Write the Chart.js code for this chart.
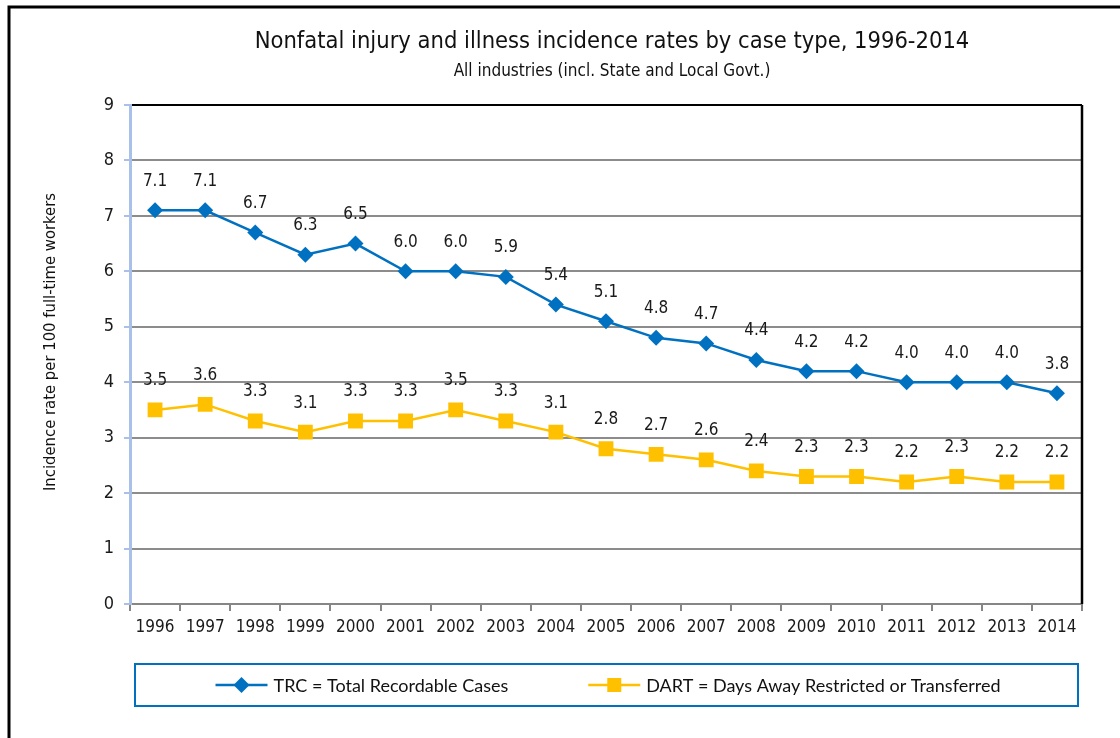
<!DOCTYPE html>
<html>
<head>
<meta charset="utf-8">
<script src="https://cdn.jsdelivr.net/npm/chart.js@4/dist/chart.umd.min.js"></script>
<style>
  body { margin: 0; background: #fff; }
</style>
</head>
<body>
<canvas id="injuryChart" width="1120" height="738"></canvas>
<script>
// values
var years = ["1996","1997","1998","1999","2000","2001","2002","2003","2004","2005",
             "2006","2007","2008","2009","2010","2011","2012","2013","2014"];
var trcRates  = [7.1,7.1,6.7,6.3,6.5,6.0,6.0,5.9,5.4,5.1,4.8,4.7,4.4,4.2,4.2,4.0,4.0,4.0,3.8];
var dartRates = [3.5,3.6,3.3,3.1,3.3,3.3,3.5,3.3,3.1,2.8,2.7,2.6,2.4,2.3,2.3,2.2,2.3,2.2,2.2];
var trcLabel  = "TRC = Total Recordable Cases";
var dartLabel = "DART = Days Away Restricted or Transferred";

var narrow = "'Liberation Sans Narrow', 'Arial Narrow', 'DejaVu Sans Condensed', sans-serif";
var legendFont = "Lato, 'Open Sans', sans-serif";
var blue = "#0070c0";
var yellow = "#ffc000";

// frame, titles, value labels, right border and boxed legend
var decorations = {
    id: 'decorations',
    beforeDraw: function(chart){
        var ctx = chart.ctx;
        ctx.save();
        ctx.fillStyle = "#fff";
        ctx.fillRect(0, 0, chart.width, chart.height);
        ctx.strokeStyle = "#000";
        ctx.lineWidth = 3;
        ctx.beginPath();
        ctx.moveTo(9, chart.height);
        ctx.lineTo(9, 7);
        ctx.lineTo(chart.width, 7);
        ctx.stroke();

        ctx.fillStyle = "#111";
        ctx.textAlign = "center";
        ctx.textBaseline = "middle";
        ctx.font = "23.5px " + narrow;
        ctx.fillText("Nonfatal injury and illness incidence rates by case type, 1996-2014", 612, 42);
        ctx.font = "17px " + narrow;
        ctx.fillText("All industries (incl. State and Local Govt.)", 612, 72);

        ctx.translate(51, 342);
        ctx.rotate(-Math.PI / 2);
        ctx.font = "16.5px " + narrow;
        ctx.fillText("Incidence rate per 100 full-time workers", 0, 0);
        ctx.restore();
    },
    afterDraw: function(chart){
        var ctx = chart.ctx;
        var area = chart.chartArea;
        ctx.save();
        // right side of the plot box
        ctx.strokeStyle = "#000";
        ctx.lineWidth = 2.5;
        ctx.beginPath();
        ctx.moveTo(area.right, area.top);
        ctx.lineTo(area.right, area.bottom);
        ctx.stroke();

        // value labels
        ctx.fillStyle = "#1a1a1a";
        ctx.font = "17px " + narrow;
        ctx.textAlign = "center";
        ctx.textBaseline = "middle";
        chart.data.datasets.forEach(function(ds, i){
            chart.getDatasetMeta(i).data.forEach(function(pt, j){
                ctx.fillText(ds.data[j].toFixed(1), pt.x, pt.y - 29);
            });
        });

        // legend box
        ctx.strokeStyle = blue;
        ctx.lineWidth = 2;
        ctx.strokeRect(135, 664, 943, 42);
        ctx.font = "18px " + legendFont;
        ctx.textAlign = "left";
        var items = chart.data.datasets;
        var widths = items.map(function(ds){ return 58 + ctx.measureText(ds.label).width; });
        var gap = 80;
        var x = 608 - (widths[0] + gap + widths[1]) / 2;
        var y = 685;
        items.forEach(function(ds, i){
            ctx.strokeStyle = ds.borderColor;
            ctx.lineWidth = 2.5;
            ctx.beginPath();
            ctx.moveTo(x, y);
            ctx.lineTo(x + 52, y);
            ctx.stroke();
            ctx.fillStyle = ds.backgroundColor;
            ctx.beginPath();
            if (ds.pointStyle === 'rectRot') {
                ctx.moveTo(x + 26 - 8, y);
                ctx.lineTo(x + 26, y - 8);
                ctx.lineTo(x + 26 + 8, y);
                ctx.lineTo(x + 26, y + 8);
                ctx.closePath();
            } else {
                ctx.rect(x + 26 - 7, y - 7, 14, 14);
            }
            ctx.fill();
            ctx.fillStyle = "#111";
            ctx.fillText(ds.label, x + 58, y + 1);
            x += widths[i] + gap;
        });
        ctx.restore();
    }
};

var config = {
    type: 'line',
    data: {
        labels: years,
        datasets: [{
            label: trcLabel,
            data: trcRates,
            borderColor: blue,
            backgroundColor: blue,
            borderWidth: 2.5,
            pointStyle: 'rectRot',
            pointRadius: 8,
            pointHoverRadius: 8,
            pointBorderWidth: 0,
            tension: 0
        },{
            label: dartLabel,
            data: dartRates,
            borderColor: yellow,
            backgroundColor: yellow,
            borderWidth: 2.5,
            pointStyle: 'rect',
            pointRadius: 10.5,
            pointHoverRadius: 10.5,
            pointBorderWidth: 0,
            tension: 0
        }]
    },
    options: {
        responsive: false,
        animation: false,
        layout: { padding: { left: 8, right: 38, top: 105, bottom: 84 } },
        plugins: {
            legend: { display: false },
            title: { display: false },
            tooltip: { enabled: false }
        },
        scales: {
            x: {
                offset: true,
                afterFit: function(s){ s.height = 50; },
                grid: {
                    offset: true,
                    drawOnChartArea: false,
                    color: "#868686",
                    lineWidth: 2,
                    tickLength: 7
                },
                border: { color: "#868686", width: 2 },
                ticks: {
                    color: "#1a1a1a",
                    font: { family: narrow, size: 17 },
                    padding: 6,
                    maxRotation: 0,
                    autoSkip: false
                }
            },
            y: {
                min: 0,
                max: 9,
                afterFit: function(s){ s.width = 122; },
                grid: {
                    color: function(c){ return c.tick && c.tick.value === 9 ? "#000" : "#8c8c8c"; },
                    lineWidth: 2,
                    tickColor: "#a9c0ea",
                    tickLength: 6
                },
                border: { color: "#a9c0ea", width: 3 },
                ticks: {
                    stepSize: 1,
                    color: "#1a1a1a",
                    font: { family: narrow, size: 18 },
                    padding: 10
                }
            }
        }
    },
    plugins: [decorations]
};

var chartCtx = document.getElementById("injuryChart");
var injuryChart = new Chart(chartCtx, config);
</script>
</body>
</html>
